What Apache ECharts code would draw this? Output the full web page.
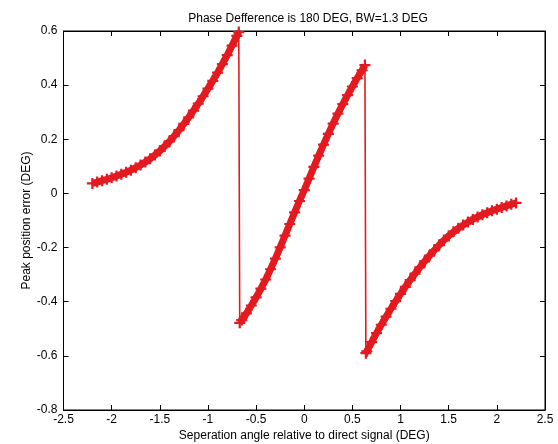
<!DOCTYPE html>
<html>
<head>
<meta charset="utf-8">
<script src="https://cdn.jsdelivr.net/npm/echarts@6/dist/echarts.min.js"></script>
<style>html,body{margin:0;padding:0;background:#fff}#c{width:558px;height:444px}</style>
</head>
<body>
<div id="c"></div>
<script>
var titleText = 'Phase Defference is 180 DEG, BW=1.3 DEG';
var xName = 'Seperation angle relative to direct signal (DEG)';
var yName = 'Peak position error (DEG)';
var xTicks = [-2.5, -2, -1.5, -1, -0.5, 0, 0.5, 1, 1.5, 2, 2.5];
var yTicks = [-0.8, -0.6, -0.4, -0.2, 0, 0.2, 0.4, 0.6];

var seg1X = [-2.2,-2.15,-2.1,-2.05,-2.0,-1.95,-1.9,-1.85,-1.8,-1.75,-1.7,-1.65,-1.6,-1.55,-1.5,-1.45,-1.4,-1.35,-1.3,-1.25,-1.2,-1.15,-1.1,-1.05,-1.0,-0.95,-0.9,-0.85,-0.8,-0.75,-0.7,-0.68];
var seg1Y = [0.037,0.042,0.047,0.052,0.058,0.064,0.071,0.078,0.086,0.095,0.105,0.116,0.128,0.142,0.157,0.174,0.192,0.212,0.234,0.257,0.281,0.306,0.332,0.359,0.387,0.416,0.446,0.478,0.511,0.546,0.582,0.596];
var seg2X = [-0.67,-0.65,-0.6,-0.55,-0.5,-0.45,-0.4,-0.35,-0.3,-0.25,-0.2,-0.15,-0.1,-0.05,0,0.05,0.1,0.15,0.2,0.25,0.3,0.35,0.4,0.45,0.5,0.55,0.6,0.63];
var seg2Y = [-0.478,-0.468,-0.443,-0.414,-0.384,-0.352,-0.318,-0.28,-0.241,-0.199,-0.156,-0.113,-0.07,-0.028,0.012,0.055,0.098,0.14,0.18,0.22,0.258,0.295,0.33,0.363,0.395,0.426,0.455,0.474];
var seg3X = [0.64,0.65,0.7,0.75,0.8,0.85,0.9,0.95,1.0,1.05,1.1,1.15,1.2,1.25,1.3,1.35,1.4,1.45,1.5,1.55,1.6,1.65,1.7,1.75,1.8,1.85,1.9,1.95,2.0,2.05,2.1,2.15,2.2];
var seg3Y = [-0.59,-0.583,-0.549,-0.516,-0.485,-0.455,-0.426,-0.398,-0.371,-0.345,-0.32,-0.296,-0.273,-0.251,-0.23,-0.21,-0.191,-0.173,-0.157,-0.142,-0.129,-0.117,-0.106,-0.096,-0.087,-0.079,-0.071,-0.064,-0.058,-0.052,-0.046,-0.04,-0.035];

function pairs(xs, ys){ return xs.map(function(x,i){ return [x, ys[i]]; }); }
var d1 = pairs(seg1X, seg1Y), d2 = pairs(seg2X, seg2Y), d3 = pairs(seg3X, seg3Y);
var all = d1.concat(d2, d3);

var RED = '#e31a1f';
var FONT = 'Liberation Sans';
var plus = 'path://M4,0H6V4H10V6H6V10H4V6H0V4H4Z';

function fmt(v){ return String(v); }

var chart = echarts.init(document.getElementById('c'), null, {renderer:'canvas'});
var axisLine = {show:true, onZero:false, lineStyle:{color:'#000', width:1}};
var tick = {show:true, inside:true, length:5, lineStyle:{color:'#000', width:1}};
var lbl = {color:'#000', fontFamily:FONT, fontSize:12};

chart.setOption({
  animation:false,
  backgroundColor:'#fff',
  title:{text:titleText, left:303, top:8, textAlign:'center',
         textStyle:{fontFamily:FONT, fontSize:12, fontWeight:'normal', color:'#000'}},
  grid:{left:63.5, right:13, top:31, bottom:34, show:true, borderColor:'#000', borderWidth:1,
        containLabel:false, outerBoundsMode:'none'},
  xAxis:[{type:'value', min:xTicks[0], max:xTicks[xTicks.length-1], interval:0.5,
          position:'bottom', axisLine:axisLine, axisTick:tick, splitLine:{show:false},
          axisLabel:Object.assign({margin:4, formatter:fmt}, lbl),
          name:xName, nameLocation:'middle', nameGap:20, nameMoveOverlap:false,
          nameTextStyle:{fontFamily:FONT, fontSize:12, color:'#000'}},
         {type:'value', min:xTicks[0], max:xTicks[xTicks.length-1], interval:0.5,
          position:'top', axisLine:axisLine, axisTick:tick, splitLine:{show:false},
          axisLabel:{show:false}}],
  yAxis:[{type:'value', min:yTicks[0], max:yTicks[yTicks.length-1], interval:0.2,
          position:'left', axisLine:axisLine, axisTick:tick, splitLine:{show:false},
          axisLabel:Object.assign({margin:6, formatter:function(v){return String(Math.round(v*10)/10);}}, lbl),
          name:yName, nameLocation:'middle', nameGap:31, nameMoveOverlap:false,
          nameTextStyle:{fontFamily:FONT, fontSize:12, color:'#000'}},
         {type:'value', min:yTicks[0], max:yTicks[yTicks.length-1], interval:0.2,
          position:'right', axisLine:axisLine, axisTick:tick, splitLine:{show:false},
          axisLabel:{show:false}}],
  series:[
    {type:'line', data:all, showSymbol:false, symbol:'none', lineStyle:{color:RED, width:1.6}, z:2},
    {type:'line', data:d1, symbol:plus, symbolSize:11, itemStyle:{color:RED}, lineStyle:{color:RED, width:7}, z:3},
    {type:'line', data:d2, symbol:plus, symbolSize:11, itemStyle:{color:RED}, lineStyle:{color:RED, width:7}, z:3},
    {type:'line', data:d3, symbol:plus, symbolSize:11, itemStyle:{color:RED}, lineStyle:{color:RED, width:7}, z:3}
  ]
});
</script>
</body>
</html>
